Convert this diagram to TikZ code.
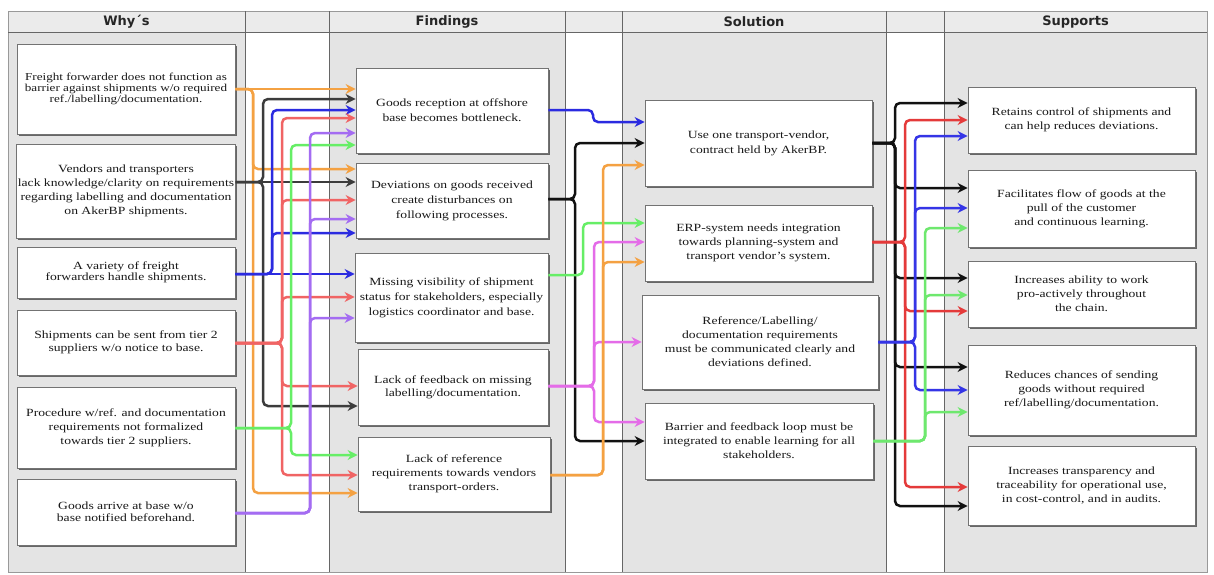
\documentclass[tikz,border=0pt]{standalone}
\usepackage{fontspec}
\setmainfont{Liberation Serif}[FakeStretch=1.24]
\newfontfamily\hdrfont{DejaVu Sans}
\usetikzlibrary{arrows.meta,shadows}

% swimlane fills and rules
\definecolor{laneGray}{HTML}{E4E4E4}
\definecolor{headGray}{HTML}{EBEBEB}
\definecolor{ruleGray}{HTML}{666666}
% connector colours
\definecolor{cOrange}{HTML}{F4A142}
\definecolor{cDark}{HTML}{3C3C3C}
\definecolor{cBlue}{HTML}{2B2BE0}
\definecolor{cRed}{HTML}{F06464}
\definecolor{cGreen}{HTML}{66EE66}
\definecolor{cPurple}{HTML}{A46CF2}
\definecolor{cMagenta}{HTML}{E46CE8}
\definecolor{cBlack}{HTML}{111111}
\definecolor{cRedR}{HTML}{E43A3A}
\definecolor{cBlueR}{HTML}{3535E6}
\definecolor{cGreenR}{HTML}{6EE86E}

\tikzset{
  cell/.style={draw=black!55, line width=0.8pt, fill=white, align=center,
    inner sep=1pt, text=black!90, font=\fontsize{11}{14}\selectfont,
    drop shadow={shadow xshift=1.6pt, shadow yshift=-2pt, fill=black!65, opacity=0.9}},
  hdr/.style={font=\hdrfont\bfseries\fontsize{13}{15}\selectfont, text=black!85},
  link/.style={line width=2.5pt, rounded corners=5pt, -{Stealth[length=10pt,width=10pt]}},
}

% box from corner (x1,y1) to (x2,y2): [opts]{name}{x1}{y1}{x2}{y2}{text}
\newcommand\cellbox[7][]{%
  \node[cell,#1,minimum width={(#5-#3)*1pt},minimum height={(#6-#4)*1pt}]
    (#2) at ({(#3+#5)/2},{(#4+#6)/2}) {#7};}
% straight connector: {colour}{from}{y}{to}
\newcommand\linkstraight[4]{\draw[link,#1] (#2.east |- 0,#3) -- (#4.west |- 0,#3);}
% elbow connector: {colour}{from}{y from}{x of riser}{to}{y to}
\newcommand\linkbend[6]{\draw[link,#1] (#2.east |- 0,#3) -| (#4,#6) -- (#5.west |- 0,#6);}

\begin{document}
\begin{tikzpicture}[x=1pt,y=-1pt]
\useasboundingbox (0,0) rectangle (1214,574);

% lanes
\fill[white] (8,11) rectangle (1207,572);
\fill[laneGray] (8,32) rectangle (245,572);
\fill[laneGray] (329,32) rectangle (565,572);
\fill[laneGray] (622,32) rectangle (886,572);
\fill[laneGray] (944,32) rectangle (1207,572);
\fill[headGray] (8,11) rectangle (1207,32);
\draw[black!40, line width=0.8pt] (8,11) rectangle (1207,572);
\draw[ruleGray, line width=0.9pt] (8,32) -- (1207,32);
\foreach \xx in {245,329,565,622,886,944}
  \draw[ruleGray, line width=0.9pt] (\xx,11) -- (\xx,572);

% lane titles
\node[hdr] (h1) at (126.5,22) {Why´s};
\node[hdr] (h2) at (447,22) {Findings};
\node[hdr] (h3) at (754,22) {Solution};
\node[hdr] (h4) at (1075.5,22) {Supports};

% causes
\cellbox[font=\fontsize{10.6}{9}\selectfont]{w1}{17}{44}{235}{134}{Freight forwarder does not function as\\barrier against shipments w/o required\\ref./labelling/documentation.}
\cellbox{w2}{17}{144}{235}{238}{Vendors and transporters\\lack knowledge/clarity on requirements\\regarding labelling and documentation\\on AkerBP shipments.}
\cellbox[font=\fontsize{11}{11}\selectfont]{w3}{17}{247}{235}{298}{A variety of freight\\forwarders handle shipments.}
\cellbox[font=\fontsize{11}{13}\selectfont]{w4}{17}{310}{235}{375}{Shipments can be sent from tier 2\\suppliers w/o notice to base.}
\cellbox{w5}{17}{387}{235}{468}{Procedure w/ref. and documentation\\requirements not formalized\\towards tier 2 suppliers.}
\cellbox[font=\fontsize{11}{12}\selectfont]{w6}{17}{479}{235}{545}{Goods arrive at base w/o\\base notified beforehand.}

% findings
\cellbox[font=\fontsize{11}{15}\selectfont]{f1}{356}{68}{548}{153}{Goods reception at offshore\\base becomes bottleneck.}
\cellbox[font=\fontsize{11}{15}\selectfont]{f2}{356}{163}{548}{238}{Deviations on goods received\\create disturbances on\\following processes.}
\cellbox[font=\fontsize{11}{15}\selectfont]{f3}{355}{253}{548}{342}{Missing visibility of shipment\\status for stakeholders, especially\\logistics coordinator and base.}
\cellbox[font=\fontsize{11}{13}\selectfont]{f4}{358}{349}{548}{425}{Lack of feedback on missing\\labelling/documentation.}
\cellbox{f5}{358}{437}{550}{511}{Lack of reference\\requirements towards vendors\\transport-orders.}

% solutions
\cellbox[font=\fontsize{11}{15}\selectfont]{s1}{645}{100}{872}{186}{Use one transport-vendor,\\contract held by AkerBP.}
\cellbox{s2}{645}{205}{872}{281}{ERP-system needs integration\\towards planning-system and\\transport vendor’s system.}
\cellbox{s3}{642}{295}{878}{389}{Reference/Labelling/\\documentation requirements\\must be communicated clearly and\\deviations defined.}
\cellbox{s4}{645}{403}{873}{479}{Barrier and feedback loop must be\\integrated to enable learning for all\\stakeholders.}

% supports
\cellbox{p1}{968}{87}{1195}{153}{Retains control of shipments and\\can help reduces deviations.}
\cellbox{p2}{968}{170}{1195}{247}{Facilitates flow of goods at the\\pull of the customer\\and continuous learning.}
\cellbox{p3}{968}{261}{1195}{327}{Increases ability to work\\pro-actively throughout\\the chain.}
\cellbox{p4}{968}{345}{1195}{435}{Reduces chances of sending\\goods without required\\ref/labelling/documentation.}
\cellbox{p5}{968}{446}{1195}{525}{Increases transparency and\\traceability for operational use,\\in cost-control, and in audits.}

% causes -> findings
\linkstraight{cOrange}{w1}{89}{f1}
\linkbend{cOrange}{w1}{89}{253}{f2}{169}
\linkbend{cOrange}{w1}{89}{253}{f5}{493}

\linkstraight{cDark}{w2}{182}{f2}
\linkbend{cDark}{w2}{182}{263}{f1}{99}
\linkbend{cDark}{w2}{182}{263}{f4}{406}

\linkstraight{cBlue}{w3}{274}{f3}
\linkbend{cBlue}{w3}{274}{272}{f1}{110}
\linkbend{cBlue}{w3}{274}{272}{f2}{233}

\linkbend{cRed}{w4}{343}{282}{f1}{118}
\linkbend{cRed}{w4}{343}{282}{f2}{200}
\linkbend{cRed}{w4}{343}{282}{f3}{297}
\linkbend{cRed}{w4}{343}{282}{f4}{386}
\linkbend{cRed}{w4}{343}{282}{f5}{475}

\linkbend{cGreen}{w5}{428}{291}{f1}{145}
\linkbend{cGreen}{w5}{428}{291}{f5}{455}

\linkbend{cPurple}{w6}{513}{310}{f1}{133}
\linkbend{cPurple}{w6}{513}{310}{f2}{219}
\linkbend{cPurple}{w6}{513}{310}{f3}{318}

% findings -> solutions
\linkbend{cBlue}{f1}{110}{593}{s1}{122}
\linkbend{cBlack}{f2}{199}{575}{s1}{143}
\linkbend{cBlack}{f2}{199}{575}{s4}{441}
\linkbend{cGreen}{f3}{275}{583}{s2}{223}
\linkbend{cMagenta}{f4}{386}{594}{s2}{242}
\linkbend{cMagenta}{f4}{386}{594}{s3}{342}
\linkbend{cMagenta}{f4}{386}{594}{s4}{422}
\linkbend{cOrange}{f5}{475}{603}{s1}{165}
\linkbend{cOrange}{f5}{475}{603}{s2}{262}

% solutions -> supports
\linkbend{cBlack}{s1}{143}{895}{p1}{103}
\linkbend{cBlack}{s1}{143}{895}{p2}{188}
\linkbend{cBlack}{s1}{143}{895}{p3}{278}
\linkbend{cBlack}{s1}{143}{895}{p4}{367}
\linkbend{cBlack}{s1}{143}{895}{p5}{506}

\linkbend{cRedR}{s2}{242}{905}{p1}{120}
\linkbend{cRedR}{s2}{242}{905}{p3}{311}
\linkbend{cRedR}{s2}{242}{905}{p5}{487}

\linkbend{cBlueR}{s3}{342}{915}{p1}{136}
\linkbend{cBlueR}{s3}{342}{915}{p2}{208}
\linkbend{cBlueR}{s3}{342}{915}{p4}{390}

\linkbend{cGreenR}{s4}{441}{925}{p2}{228}
\linkbend{cGreenR}{s4}{441}{925}{p3}{295}
\linkbend{cGreenR}{s4}{441}{925}{p4}{412}
\end{tikzpicture}
\end{document}
